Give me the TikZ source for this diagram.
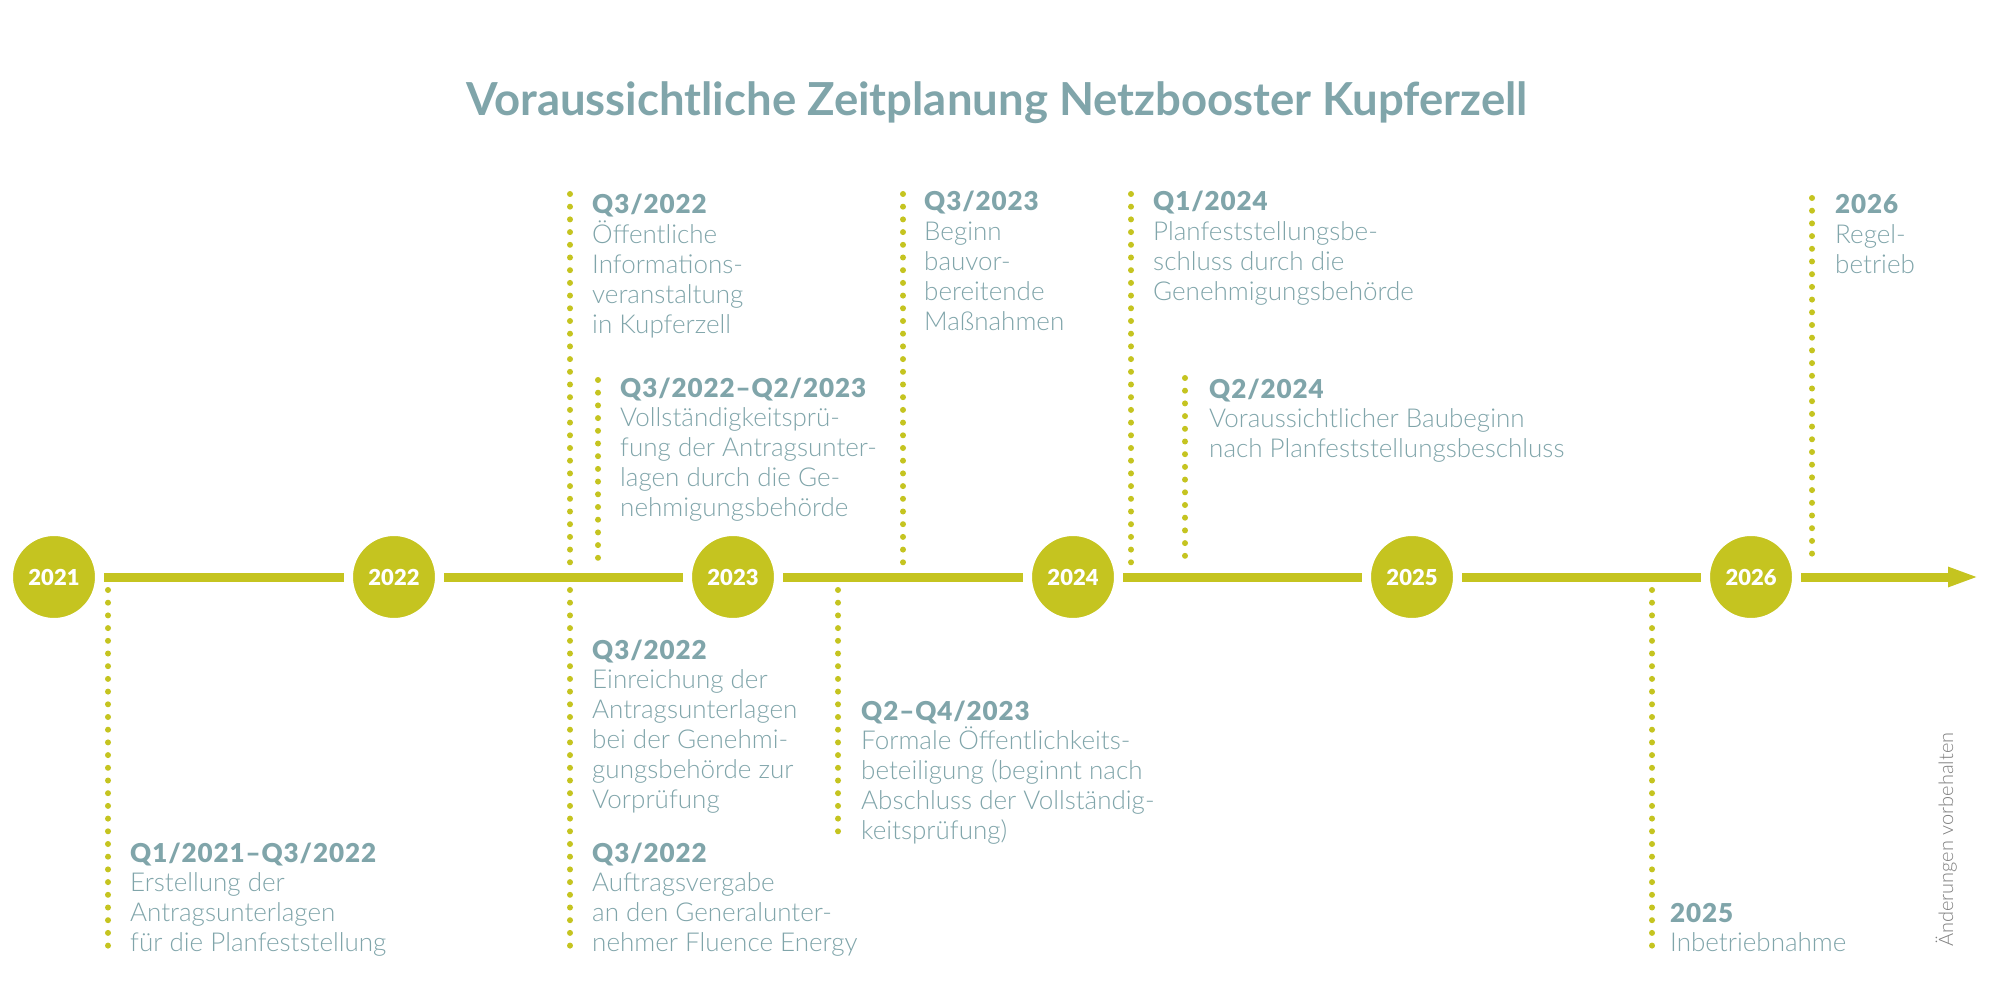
\documentclass[tikz,border=0pt]{standalone}
\usepackage{fontspec}
\setmainfont{Lato}[UprightFont=* Light, BoldFont=* Bold]
\newfontface\heavyface{Lato Black}[LetterSpace=3.5]
\newfontface\yearface{Lato Black}
\usetikzlibrary{arrows.meta}
\definecolor{tlolive}{RGB}{197,196,32}
\definecolor{tlteal}{RGB}{128,165,170}
\definecolor{tlgray}{RGB}{128,128,128}
\newcommand{\infobox}[1]{\parbox[t]{400pt}{\raggedright #1}}
\newcommand{\hd}[1]{{\heavyface #1}}
\begin{document}
\begin{tikzpicture}[x=1pt,y=-1pt,
  yearc/.style={circle, fill=tlolive, draw=white, line width=9pt, minimum size=91pt, inner sep=0pt, text=white, font=\yearface\fontsize{22}{26}\selectfont},
  mainline/.style={draw=tlolive, line width=9pt},
  dots/.style={draw=tlolive, line width=6pt, line cap=round, dash pattern=on 0pt off 12.7pt},
  info/.style={anchor=base west, inner sep=0pt, text=tlteal, font=\fontsize{26}{29.8}\selectfont},
]
\useasboundingbox[fill=white] (0,0) rectangle (1994,981);

% title
\node[anchor=base, inner sep=0pt, text=tlteal, font=\bfseries\fontsize{45.5}{50}\selectfont] (title) at (997,116) {Voraussichtliche Zeitplanung Netzbooster Kupferzell};

% dotted markers
\coordinate (a1) at (108,590); \coordinate (a2) at (108,946);
\coordinate (b1) at (570,194); \coordinate (b2) at (570,564);
\coordinate (c1) at (598,380); \coordinate (c2) at (598,564);
\coordinate (d1) at (570,590); \coordinate (d2) at (570,946);
\coordinate (f1) at (838,590); \coordinate (f2) at (838,842);
\coordinate (g1) at (903,194); \coordinate (g2) at (903,564);
\coordinate (h1) at (1131,194); \coordinate (h2) at (1131,564);
\coordinate (i1) at (1185,378); \coordinate (i2) at (1185,564);
\coordinate (j1) at (1652,590); \coordinate (j2) at (1652,948);
\coordinate (k1) at (1812,198); \coordinate (k2) at (1812,564);
\foreach \p in {a,b,c,d,f,g,h,i,j,k} \draw[dots] (\p1) -- (\p2);

% year circles
\node[yearc] (y2021) at (54,577) {2021};
\node[yearc] (y2022) at (394,577) {2022};
\node[yearc] (y2023) at (733,577) {2023};
\node[yearc] (y2024) at (1073,577) {2024};
\node[yearc] (y2025) at (1412,577) {2025};
\node[yearc] (y2026) at (1751,577) {2026};
\coordinate (tip) at (1979,577);

% timeline
\draw[mainline] (y2021) -- (y2022);
\draw[mainline] (y2022) -- (y2023);
\draw[mainline] (y2023) -- (y2024);
\draw[mainline] (y2024) -- (y2025);
\draw[mainline] (y2025) -- (y2026);
\draw[mainline, -{Triangle[length=31pt,width=18pt]}] (y2026) -- (tip);

% texts
\node[info] (ta) at (130,862) {\infobox{\hd{Q1/2021–Q3/2022}\\Erstellung der\\Antragsunterlagen\\für die Planfeststellung}};
\node[info] (tb) at (592,214) {\infobox{\hd{Q3/2022}\\Öffentliche\\Informations-\\veranstaltung\\in Kupferzell}};
\node[info] (tc) at (620,397) {\infobox{\hd{Q3/2022–Q2/2023}\\Vollständigkeitsprü-\\fung der Antragsunter-\\lagen durch die Ge-\\nehmigungsbehörde}};
\node[info] (td) at (592,659) {\infobox{\hd{Q3/2022}\\Einreichung der\\Antragsunterlagen\\bei der Genehmi-\\gungsbehörde zur\\Vorprüfung}};
\node[info] (te) at (592,862) {\infobox{\hd{Q3/2022}\\Auftragsvergabe\\an den Generalunter-\\nehmer Fluence Energy}};
\node[info] (tf) at (861,720) {\infobox{\hd{Q2–Q4/2023}\\Formale Öffentlichkeits-\\beteiligung (beginnt nach\\Abschluss der Vollständig-\\keitsprüfung)}};
\node[info] (tg) at (924,211) {\infobox{\hd{Q3/2023}\\Beginn\\bauvor-\\bereitende\\Maßnahmen}};
\node[info] (th) at (1153,211) {\infobox{\hd{Q1/2024}\\Planfeststellungsbe-\\schluss durch die\\Genehmigungsbehörde}};
\node[info] (ti) at (1209,398) {\infobox{\hd{Q2/2024}\\Voraussichtlicher Baubeginn\\nach Planfeststellungsbeschluss}};
\node[info] (tj) at (1670,922) {\infobox{\hd{2025}\\Inbetriebnahme}};
\node[info] (tk) at (1835,214) {\infobox{\hd{2026}\\Regel-\\betrieb}};

% note
\node[anchor=base west, rotate=90, inner sep=0pt, text=tlgray, font=\fontsize{20}{24}\selectfont] (note) at (1953,947) {Änderungen vorbehalten};
\end{tikzpicture}
\end{document}
